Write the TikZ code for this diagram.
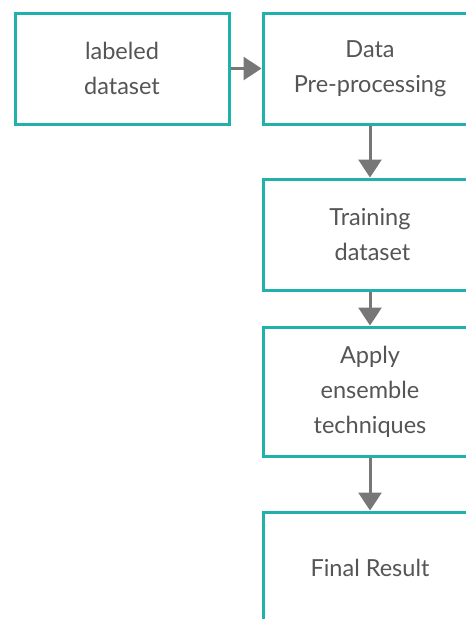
\documentclass[tikz,border=0pt]{standalone}
\usepackage{fontspec}
\setmainfont{Lato}
\usetikzlibrary{arrows.meta}
\definecolor{boxteal}{RGB}{32,178,170}
\definecolor{arrowgray}{RGB}{119,119,119}
\definecolor{textgray}{RGB}{85,85,85}
\begin{document}
\begin{tikzpicture}[x=1pt,y=-1pt,
  flowbox/.style={draw=boxteal,line width=3pt,fill=white,minimum width=214pt,inner sep=0pt,
    align=center,text=textgray,font=\fontsize{23.5}{35}\selectfont},
  flowarrow/.style={draw=arrowgray,line width=3pt,-{Triangle[length=18pt,width=23pt]}}]
\useasboundingbox (0,0) rectangle (466,619);
\clip (0,0) rectangle (466,619);
\fill[white] (0,0) rectangle (466,619);
\node[flowbox,minimum height=111pt] (lab) at (122,68.5) {labeled\\dataset};
\node[flowbox,minimum height=111pt] (pre) at (370,68.5) {Data\\Pre-processing};
\node[flowbox,minimum height=111pt] (train) at (370,234.5) {Training\\\hspace*{5pt}dataset};
\node[flowbox,minimum height=129pt] (ens) at (370,391.5) {Apply\\ensemble\\techniques};
\node[flowbox,minimum height=111pt] (fin) at (370,567.5) {Final Result};
\draw[flowarrow] (lab) -- (pre);
\draw[flowarrow] (pre) -- (train);
\draw[flowarrow] (train) -- (ens);
\draw[flowarrow] (ens) -- (fin);
\end{tikzpicture}
\end{document}
